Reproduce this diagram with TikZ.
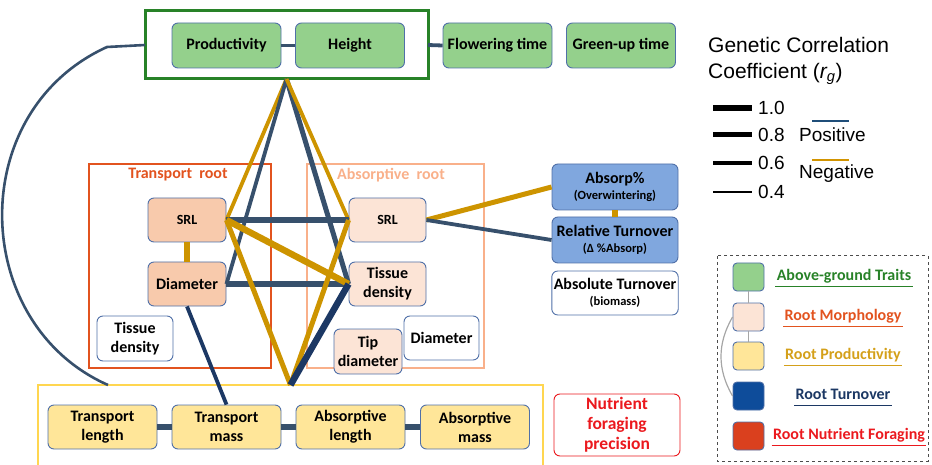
\documentclass[tikz,border=0pt]{standalone}
\usepackage{fontspec}
\usepackage{xcolor}
\usepackage{tikz}
\usetikzlibrary{positioning,calc}
\newfontfamily\carlito{Carlito}
\newfontfamily\arialfont{Liberation Sans}
\newcommand{\subfont}{\fontsize{12.5}{14}\selectfont}
\definecolor{agGreen}{RGB}{148,208,140}
\definecolor{frameGreen}{RGB}{40,130,40}
\definecolor{trPink}{RGB}{248,202,172}
\definecolor{abPink}{RGB}{252,228,214}
\definecolor{prodYellow}{RGB}{255,230,153}
\definecolor{frameYellow}{RGB}{255,214,80}
\definecolor{turnBlue}{RGB}{128,167,222}
\definecolor{edgeBlue}{RGB}{80,112,168}
\definecolor{trRed}{RGB}{226,83,31}
\definecolor{abSalmon}{RGB}{249,176,138}
\definecolor{posSlate}{RGB}{55,80,108}
\definecolor{posNavy}{RGB}{28,56,100}
\definecolor{negGold}{RGB}{205,148,0}
\definecolor{lgNavy}{RGB}{14,76,154}
\definecolor{lgRed}{RGB}{218,64,30}
\definecolor{lgGold}{RGB}{212,160,26}
\definecolor{foragRed}{RGB}{235,25,30}
\definecolor{legPos}{RGB}{31,78,121}
\definecolor{legNeg}{RGB}{210,148,0}

\begin{document}
\begin{tikzpicture}[x=1pt, y=1pt,
    % Style for the trait boxes
    trait/.style={
        draw=edgeBlue, line width=0.9pt, rounded corners=6pt,
        align=center, inner sep=2pt, text=black,
        font=\carlito\bfseries\fontsize{16}{19}\selectfont
    },
    agbox/.style={trait, fill=agGreen, minimum width=109pt, minimum height=45pt},
    trbox/.style={trait, fill=trPink, minimum width=78pt, minimum height=44pt},
    abbox/.style={trait, fill=abPink, minimum width=77pt, minimum height=44pt},
    prbox/.style={trait, fill=prodYellow, minimum width=109pt, minimum height=44pt},
    tobox/.style={trait, fill=turnBlue, minimum width=126pt, minimum height=46pt},
    plainbox/.style={trait, fill=white},
    % Style for the group frames
    groupframe/.style={draw, line width=2.4pt, inner sep=0pt, outer sep=0pt},
    grouplabel/.style={font=\carlito\bfseries\fontsize{16}{18}\selectfont},
    % Styles for the correlations (colour and strength)
    poscorr/.style={draw=posSlate},
    navycorr/.style={draw=posNavy},
    negcorr/.style={draw=negGold},
    r10/.style={line width=6.5pt},
    r08/.style={line width=5pt},
    r06/.style={line width=3.8pt},
    r04/.style={line width=2.6pt},
    % Style for the legend texts
    legtext/.style={font=\arialfont\fontsize{19}{22}\selectfont, anchor=west, inner sep=0pt}
]
    \useasboundingbox (0,0) rectangle (932,-465);

    % --- 1. Group frames ---
    \node[groupframe, draw=frameGreen, line width=3pt, minimum width=283pt, minimum height=68pt] (agFrame) at (286.5,-45) {};
    \node[groupframe, draw=trRed, minimum width=182pt, minimum height=204pt] (trFrame) at (180,-266) {};
    \node[groupframe, draw=abSalmon, minimum width=177pt, minimum height=204pt] (abFrame) at (395.5,-266) {};
    \node[groupframe, draw=frameYellow, minimum width=505pt, minimum height=85pt] (prFrame) at (290.5,-427.5) {};
    \node[grouplabel, text=trRed] (trLabel) at (178,-175) {Transport\ \ root};
    \node[grouplabel, text=abSalmon] (abLabel) at (391,-175) {Absorptive\ \ root};

    % --- 2. Trait boxes ---
    \node[agbox] (prod) at (226.5,-45.5) {Productivity};
    \node[agbox] (height) at (350,-45.5) {Height};
    \node[agbox] (flower) at (497.5,-45.5) {Flowering time};
    \node[agbox] (greenup) at (621,-45.5) {Green-up time};

    \node[trbox, font=\carlito\bfseries\fontsize{14}{16}\selectfont] (tSRL) at (187,-220) {SRL};
    \node[trbox] (tDiam) at (187,-284) {Diameter};
    \node[plainbox, minimum width=76pt, minimum height=45pt] (tTD) at (135,-338.5) {Tissue\\density};

    \node[abbox, font=\carlito\bfseries\fontsize{14}{16}\selectfont] (aSRL) at (387.5,-220) {SRL};
    \node[abbox] (aTD) at (387.5,-284) {Tissue\\density};
    \node[plainbox, minimum width=75pt, minimum height=44pt] (aDiam) at (441.5,-338) {Diameter};
    \node[abbox, minimum width=68pt, minimum height=45pt] (aTip) at (368,-351.5) {Tip\\diameter};

    \node[tobox] (absorp) at (615,-187) {Absorp\%\\[-3pt]{\subfont (Overwintering)}};
    \node[tobox] (relTurn) at (615,-240) {Relative Turnover\\[-3pt]{\subfont (Δ \%Absorp)}};
    \node[plainbox, minimum width=126pt, minimum height=44pt] (absTurn) at (615,-293) {Absolute Turnover\\[-3pt]{\subfont (biomass)}};

    \foreach \n/\x/\ta/\tb in {tLen/102.5/Transport/length, tMass/226.5/Transport/mass,
                               aLen/350.5/Absorptive/length, aMass/475/Absorptive/mass} {
        \node[prbox] (\n) at (\x,-427) {\ta\\\tb};
    }

    \node[trait, draw=foragRed, fill=white, text=foragRed, minimum width=126pt, minimum height=62pt,
          font=\carlito\bfseries\fontsize{17.5}{20}\selectfont] (forag) at (617,-425) {Nutrient\\foraging\\precision};

    % --- 3. Genetic correlations ---
    \coordinate (topApex) at (agFrame.south);
    \coordinate (botApex) at (prFrame.north);
    \coordinate (arcBend) at (107,-47);
    \coordinate (arcEnd) at (108,-385);

    \draw[poscorr, r06] (prod.east) -- (height.west);
    \draw[poscorr, r06] (agFrame.east) -- (flower.west);
    \draw[poscorr, r04] (agFrame.west) -- (arcBend) .. controls (-36,-112) and (-30,-324) .. (arcEnd);

    \draw[negcorr, r06] (topApex) -- (tSRL.east);
    \draw[poscorr, r06] (topApex) -- (tDiam.east);
    \draw[poscorr, r08] (topApex) -- (aTD.west);
    \draw[negcorr, r06] (topApex) -- (aSRL.west);

    \draw[negcorr, r10] (tSRL.south) -- (tDiam.north);
    \draw[poscorr, r10] (tSRL.east) -- (aSRL.west);
    \draw[poscorr, r10] (tDiam.east) -- (aTD.west);
    \draw[negcorr, r10] (tSRL.east) -- (aTD.west);

    \draw[negcorr, r08] (tSRL.east) -- (botApex);
    \draw[negcorr, r08] (botApex) -- (aSRL.west);
    \draw[navycorr, r10] (botApex) -- (aTD.west);
    \draw[navycorr, r06] (tDiam.south) -- (tMass.north);

    \draw[negcorr, r08] (aSRL.east) -- (absorp.west);
    \draw[poscorr, r06] (aSRL.east) -- (relTurn.west);
    \draw[negcorr, r10] (absorp.south) -- (relTurn.north);

    \foreach \a/\b in {tLen/tMass, tMass/aLen, aLen/aMass} {
        \draw[poscorr, r10] (\a.east) -- (\b.west);
    }

    % --- 4. Legend: correlation strength ---
    \node[legtext, font=\arialfont\fontsize{21}{26}\selectfont, align=left] (lgTitle) at (708,-61)
        {Genetic Correlation\\Coefficient ({\itshape r}\textsubscript{\itshape g})};
    \foreach \v/\w/\y [count=\i] in {1.0/6.5/108, 0.8/5/135, 0.6/3.8/163, 0.4/2.6/192} {
        \draw[line width=\w pt] (713,-\y) -- (752,-\y);
        \node[legtext] (lgVal\i) at (758,-\y) {\v};
    }
    \draw[legPos, line width=2.6pt] (812,-121) -- (849,-121);
    \node[legtext] (lgPos) at (799,-135) {Positive};
    \draw[legNeg, line width=2.6pt] (812,-160) -- (849,-160);
    \node[legtext] (lgNeg) at (799,-174) {Negative};

    % --- 5. Legend: trait groups ---
    \draw[dashed, gray!60!black, line width=1pt] (717,-256) rectangle (928,-461);
    \foreach \n/\c/\y/\x/\t/\tc in {lgAg/agGreen/277/844/Above-ground Traits/frameGreen,
                                    lgMorph/abPink/317/843/Root Morphology/trRed,
                                    lgProd/prodYellow/356/843/Root Productivity/lgGold,
                                    lgTurn/lgNavy/396/843/Root Turnover/posNavy,
                                    lgFor/lgRed/436/849/Root Nutrient Foraging/foragRed} {
        \node[trait, fill=\c, minimum width=31pt, minimum height=28pt, rounded corners=4pt] (\n) at (748.5,-\y) {};
        \node[trait, draw=none, text=\tc, inner sep=1pt, text height=11pt, text depth=4.5pt] (\n-label) at (\x,-\y) {\t};
        \draw[\tc, line width=1.4pt] (\n-label.south west) -- (\n-label.south east);
    }
    \draw[gray!70, line width=1.2pt] (lgAg.south) -- (lgMorph.north);
    \draw[gray!70, line width=1.2pt] (lgMorph.south) -- (lgProd.north);
    \draw[gray!70, line width=1.2pt] (lgMorph.west) to[bend right=30] (lgTurn.west);

\end{tikzpicture}
\end{document}
